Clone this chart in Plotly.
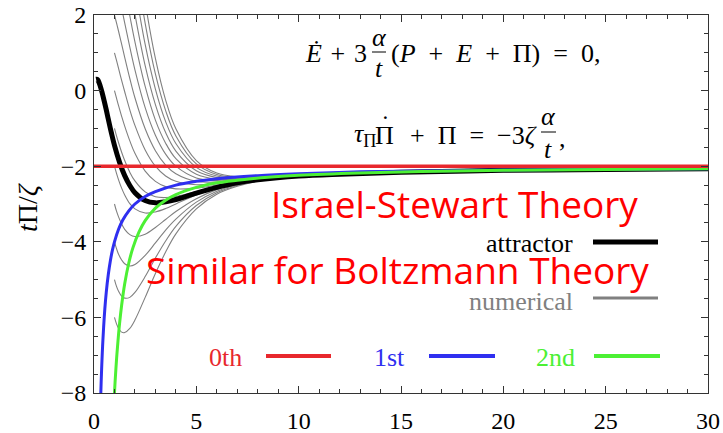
import plotly.graph_objects as go

# ---- data -------------------------------------------------------------
# attractor solution
att_t = [0.1, 0.15, 0.2, 0.3, 0.4, 0.5, 0.6, 0.7, 0.85, 1.0, 1.25, 1.5, 1.75, 2.0,
         2.5, 3.0, 3.5, 4.0, 5.0, 6.0, 7.0, 8.0, 10, 12, 15, 20, 25, 30]
att_y = [0.30, 0.30, 0.27, 0.13, -0.06, -0.28, -0.51, -0.76, -1.12, -1.45, -1.90,
         -2.25, -2.51, -2.70, -2.91, -2.97, -2.94, -2.88, -2.71, -2.56, -2.44,
         -2.36, -2.26, -2.21, -2.16, -2.11, -2.09, -2.07]

# 0th order
zeroth_t = [0, 30]
zeroth_y = [-2.0, -2.0]

# 1st order
first_t = [0.333, 0.35, 0.38, 0.42, 0.47, 0.53, 0.6, 0.7, 0.8, 0.9, 1.0, 1.2, 1.4,
           1.7, 2.0, 2.5, 3.0, 4.0, 5.0, 6.0, 8.0, 10, 13, 16, 20, 25, 30]
first_y = [-8.0, -7.71, -7.26, -6.76, -6.26, -5.77, -5.33, -4.86, -4.50, -4.22,
           -4.00, -3.67, -3.43, -3.18, -3.00, -2.80, -2.67, -2.50, -2.40, -2.33,
           -2.25, -2.20, -2.15, -2.13, -2.10, -2.08, -2.07]

# 2nd order
second_t = [1.0, 1.03, 1.07, 1.12, 1.18, 1.25, 1.35, 1.5, 1.7, 1.9, 2.2, 2.5, 3.0,
            3.5, 4.0, 5.0, 6.0, 7.0, 8.5, 10, 13, 16, 20, 25, 30]
second_y = [-8.0, -7.71, -7.36, -6.97, -6.57, -6.16, -5.68, -5.11, -4.56, -4.16,
            -3.74, -3.44, -3.11, -2.90, -2.75, -2.56, -2.44, -2.37, -2.29, -2.24,
            -2.18, -2.14, -2.11, -2.09, -2.07]

# numerical solutions started at t = 1
num_t = [1.0, 1.1, 1.2, 1.35, 1.5, 1.75, 2.0, 2.5, 3.0, 3.5, 4.0, 5.0, 6.0, 7.0,
         8.0, 10.0, 12.0, 15.0, 20.0, 25.0, 30.0]
num_tail = [-2.16, -2.11, -2.09, -2.07]
num_y = [
    [8.00, 7.76, 7.46, 6.93, 6.34, 5.28, 4.23, 2.34, 0.85, -0.25, -1.01, -1.85, -2.18, -2.28, -2.30, -2.25, -2.20],
    [7.00, 6.77, 6.48, 5.98, 5.43, 4.46, 3.49, 1.78, 0.44, -0.53, -1.20, -1.94, -2.22, -2.30, -2.30, -2.25, -2.20],
    [6.00, 5.77, 5.50, 5.03, 4.52, 3.63, 2.76, 1.22, 0.04, -0.82, -1.40, -2.03, -2.26, -2.32, -2.31, -2.25, -2.21],
    [5.00, 4.78, 4.52, 4.08, 3.61, 2.80, 2.02, 0.66, -0.37, -1.11, -1.60, -2.12, -2.30, -2.33, -2.32, -2.26, -2.21],
    [4.00, 3.78, 3.54, 3.13, 2.70, 1.98, 1.29, 0.11, -0.78, -1.39, -1.80, -2.21, -2.34, -2.35, -2.33, -2.26, -2.21],
    [3.00, 2.79, 2.55, 2.18, 1.79, 1.15, 0.55, -0.45, -1.18, -1.68, -2.00, -2.31, -2.38, -2.37, -2.33, -2.26, -2.21],
    [2.00, 1.79, 1.57, 1.23, 0.88, 0.32, -0.19, -1.01, -1.59, -1.97, -2.20, -2.40, -2.42, -2.39, -2.34, -2.26, -2.21],
    [1.00, 0.80, 0.59, 0.27, -0.03, -0.51, -0.92, -1.57, -2.00, -2.26, -2.40, -2.49, -2.46, -2.40, -2.35, -2.26, -2.21],
    [0.00, -0.20, -0.40, -0.68, -0.94, -1.33, -1.66, -2.13, -2.40, -2.54, -2.60, -2.58, -2.50, -2.42, -2.35, -2.26, -2.21],
    [-1.00, -1.20, -1.38, -1.63, -1.85, -2.16, -2.39, -2.68, -2.81, -2.83, -2.80, -2.67, -2.54, -2.44, -2.36, -2.26, -2.21],
    [-2.00, -2.19, -2.36, -2.58, -2.76, -2.99, -3.13, -3.24, -3.21, -3.12, -3.00, -2.76, -2.58, -2.46, -2.37, -2.26, -2.21],
    [-3.00, -3.19, -3.34, -3.53, -3.67, -3.81, -3.86, -3.80, -3.62, -3.41, -3.20, -2.86, -2.62, -2.47, -2.38, -2.27, -2.21],
    [-4.00, -4.18, -4.33, -4.48, -4.58, -4.64, -4.60, -4.36, -4.03, -3.69, -3.40, -2.95, -2.66, -2.49, -2.38, -2.27, -2.21],
    [-5.00, -5.18, -5.31, -5.44, -5.49, -5.47, -5.34, -4.92, -4.43, -3.98, -3.59, -3.04, -2.70, -2.51, -2.39, -2.27, -2.21],
    [-6.00, -6.17, -6.29, -6.39, -6.40, -6.29, -6.07, -5.47, -4.84, -4.27, -3.79, -3.13, -2.74, -2.53, -2.40, -2.27, -2.21],
]

x_ticks = [0, 5, 10, 15, 20, 25, 30]
y_ticks = [-8, -6, -4, -2, 0, 2]

# ---- styling ----------------------------------------------------------
W, H = 723, 433
L, R, T, B = 94, 708, 15, 393          # plot area in pixels
RED, BLUE, GREEN, GREY = "#e8282d", "#2f2ff0", "#4cf034", "#808080"
SERIF = "Liberation Serif"
SANS = "Open Sans"


def fx(p):
    return (p - L) / (R - L)


def fy(p):
    return (B - p) / (B - T)


fig = go.Figure()

for ys in num_y:
    fig.add_trace(go.Scatter(x=num_t, y=ys + num_tail, mode="lines",
                             line=dict(color=GREY, width=1.1, shape="spline"),
                             hoverinfo="skip"))

fig.add_trace(go.Scatter(x=att_t, y=att_y, mode="lines",
                         line=dict(color="black", width=5, shape="spline")))
fig.add_trace(go.Scatter(x=first_t, y=first_y, mode="lines",
                         line=dict(color=BLUE, width=3, shape="spline")))
fig.add_trace(go.Scatter(x=second_t, y=second_y, mode="lines",
                         line=dict(color=GREEN, width=3, shape="spline")))
fig.add_trace(go.Scatter(x=zeroth_t, y=zeroth_y, mode="lines",
                         line=dict(color=RED, width=3.5)))

axis_common = dict(showgrid=False, zeroline=False, showline=True, linecolor="#333",
                   linewidth=1, mirror="ticks", ticks="inside", ticklen=7,
                   tickcolor="#333", tickwidth=1, automargin=False,
                   tickfont=dict(family=SERIF, size=24, color="black"))

fig.update_xaxes(range=[0, 30], tickvals=x_ticks, ticklabelstandoff=6, **axis_common,
                 minor=dict(dtick=1, ticklen=4, ticks="inside", tickcolor="#333"))
fig.update_yaxes(range=[-8, 2], tickvals=y_ticks, ticklabelstandoff=2, **axis_common,
                 minor=dict(dtick=0.5, ticklen=4, ticks="inside", tickcolor="#333"))

ann = []
shapes = []


def text(px, py, s, size, color="black", family=SERIF, xanchor="center", angle=0):
    ann.append(dict(x=fx(px), y=fy(py), xref="paper", yref="paper", text=s,
                    showarrow=False, xanchor=xanchor, yanchor="middle",
                    textangle=angle, font=dict(family=family, size=size, color=color)))


def seg(x0, x1, py, color, width):
    shapes.append(dict(type="line", xref="paper", yref="paper",
                       x0=fx(x0), x1=fx(x1), y0=fy(py), y1=fy(py),
                       line=dict(color=color, width=width)))


# y-axis label
text(27, 208, "<i>t</i>Π/<i>ζ</i>", 28, angle=-90)

# equations
EQ = 26
sp = "\u2004"
en = "\u2002"
text(369, 53, f"<i>Ė</i>{sp}+{sp}3", EQ, xanchor="right")
text(379, 37, "<i>α</i>", EQ)
seg(372, 386, 52, "black", 1)
text(379, 68, "<i>t</i>", EQ)
text(389, 53, f"(<i>P</i>{en}+{en}<i>E</i>{en}+{en}Π){en}={en}0,", EQ, xanchor="left")

text(352, 135, "<i>τ</i><sub>Π</sub>", EQ, xanchor="left")
text(384, 135, "Π", EQ)
text(385, 124, "˙", EQ)
text(539, 135, f"+{en}Π{en}={en}−3<i>ζ</i>", EQ, xanchor="right")
text(548, 116, "<i>α</i>", EQ)
seg(541, 556, 132, "black", 1)
text(548, 150, "<i>t</i>", EQ)
text(557, 138, ",", EQ, xanchor="left")

# legend
text(575, 243, "attractor", 26, xanchor="right")
seg(593, 658, 242, "black", 5)
text(575, 301, "numerical", 26, color=GREY, xanchor="right")
seg(593, 658, 298, GREY, 3)
text(244, 357, "0th", 26, color=RED, xanchor="right")
seg(266, 331, 356, RED, 4)
text(407, 357, "1st", 26, color=BLUE, xanchor="right")
seg(429, 495, 356, BLUE, 4)
text(577, 357, "2nd", 26, color=GREEN, xanchor="right")
seg(594, 660, 356, GREEN, 4)

# overlay titles
text(454, 203, "Israel-Stewart Theory", 37, color="#ff0000", family=SANS)
text(397, 269, "Similar for Boltzmann Theory", 37, color="#ff0000", family=SANS)

fig.update_layout(width=W, height=H, margin=dict(l=L, r=W - R, t=T, b=H - B),
                  paper_bgcolor="white", plot_bgcolor="white", showlegend=False,
                  annotations=ann, shapes=shapes)

fig.write_html("out.html")
